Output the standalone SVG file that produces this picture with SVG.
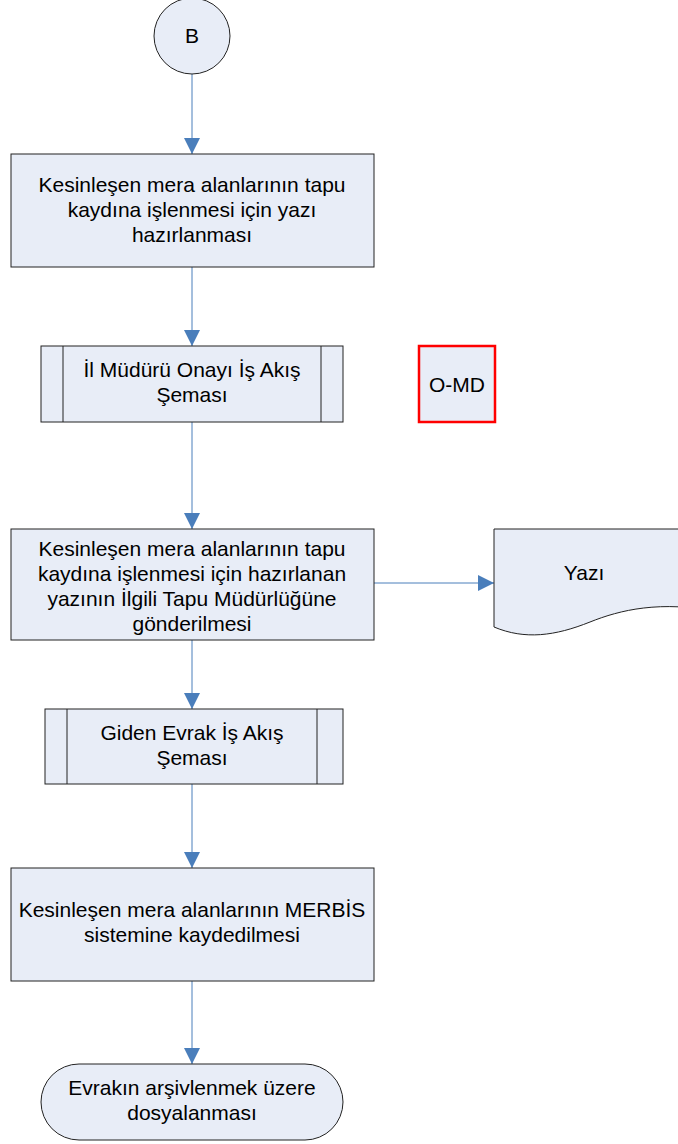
<svg xmlns="http://www.w3.org/2000/svg" width="678" height="1144" viewBox="0 0 678 1144">
<style>
.n{fill:#e8edf7;stroke:#222;stroke-width:1}
.t{font-family:"Liberation Sans",Arial,sans-serif;font-size:21px;fill:#000;text-anchor:middle}
.c{stroke:#4a7ebb;stroke-width:1;fill:none}
</style>
<defs>
<marker id="ah" markerUnits="userSpaceOnUse" markerWidth="16" markerHeight="16" viewBox="0 0 14 14" refX="14" refY="7" orient="auto">
<path d="M0,0 L14,7 L0,14 Z" fill="#4a7ebb"/>
</marker>
</defs>
<rect width="678" height="1144" fill="#fff"/>
<g id="connectors">
<line class="c" x1="192" y1="74" x2="192" y2="154" marker-end="url(#ah)"/>
<line class="c" x1="192" y1="267" x2="192" y2="346" marker-end="url(#ah)"/>
<line class="c" x1="192" y1="422" x2="192" y2="529" marker-end="url(#ah)"/>
<line class="c" x1="374" y1="583" x2="494" y2="583" marker-end="url(#ah)"/>
<line class="c" x1="192" y1="640" x2="192" y2="709" marker-end="url(#ah)"/>
<line class="c" x1="192" y1="784" x2="192" y2="868" marker-end="url(#ah)"/>
<line class="c" x1="192" y1="981" x2="192" y2="1064" marker-end="url(#ah)"/>
</g>
<g id="start">
<circle class="n" cx="192" cy="36" r="38"/>
<text class="t" x="192" y="43">B</text>
</g>
<g id="box1">
<rect class="n" x="11" y="154" width="363" height="113"/>
<text class="t" x="192" y="192">Kesinleşen mera alanlarının tapu</text>
<text class="t" x="192" y="217">kaydına işlenmesi için yazı</text>
<text class="t" x="192" y="242">hazırlanması</text>
</g>
<g id="sub1">
<rect class="n" x="41" y="346" width="302" height="76"/>
<line class="n" x1="63" y1="346" x2="63" y2="422"/>
<line class="n" x1="321" y1="346" x2="321" y2="422"/>
<text class="t" x="192" y="377">İl Müdürü Onayı İş Akış</text>
<text class="t" x="192" y="402">Şeması</text>
</g>
<g id="omd">
<rect x="419" y="346" width="76" height="76" fill="#e8edf7" stroke="#ff0000" stroke-width="2.5"/>
<text class="t" x="457" y="392">O-MD</text>
</g>
<g id="box3">
<rect class="n" x="11" y="529" width="363" height="111"/>
<text class="t" x="192" y="556">Kesinleşen mera alanlarının tapu</text>
<text class="t" x="192" y="581">kaydına işlenmesi için hazırlanan</text>
<text class="t" x="192" y="606">yazının İlgili Tapu Müdürlüğüne</text>
<text class="t" x="192" y="631">gönderilmesi</text>
</g>
<g id="doc">
<path class="n" d="M494,529 H720 V612 C660,600 620,610 590,622 C555,636 525,640 494,627 Z"/>
<text class="t" x="584" y="580">Yazı</text>
</g>
<g id="sub2">
<rect class="n" x="45" y="709" width="298" height="75"/>
<line class="n" x1="67" y1="709" x2="67" y2="784"/>
<line class="n" x1="317" y1="709" x2="317" y2="784"/>
<text class="t" x="192" y="740">Giden Evrak İş Akış</text>
<text class="t" x="192" y="765">Şeması</text>
</g>
<g id="box5">
<rect class="n" x="11" y="868" width="363" height="113"/>
<text class="t" x="192" y="917">Kesinleşen mera alanlarının MERBİS</text>
<text class="t" x="192" y="942">sistemine kaydedilmesi</text>
</g>
<g id="end">
<rect class="n" x="41" y="1064" width="302" height="76" rx="38" ry="38"/>
<text class="t" x="192" y="1095">Evrakın arşivlenmek üzere</text>
<text class="t" x="192" y="1120">dosyalanması</text>
</g>
</svg>
